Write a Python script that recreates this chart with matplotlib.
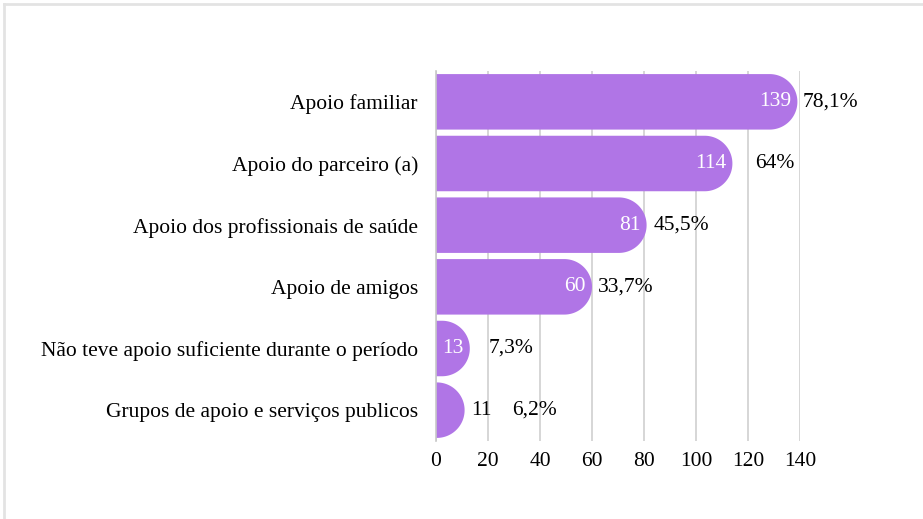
import numpy as np
import matplotlib
matplotlib.use("Agg")
import matplotlib.pyplot as plt
from matplotlib.patches import Polygon
from matplotlib.lines import Line2D

categories = [
    "Apoio familiar",
    "Apoio do parceiro (a)",
    "Apoio dos profissionais de saúde",
    "Apoio de amigos",
    "Não teve apoio suficiente durante o período",
    "Grupos de apoio e serviços publicos",
]
counts = [139, 114, 81, 60, 13, 11]
pct_labels = ["78,1%", "64%", "45,5%", "33,7%", "7,3%", "6,2%"]
pct_label_x = [141.2, 122.7, 83.8, 62.3, 20.4, 29.2]
x_ticks = [0, 20, 40, 60, 80, 100, 120, 140]

plt.rcParams["font.family"] = ["Liberation Serif", "DejaVu Serif"]

BAR = "#b075e6"
FS = 15.5
W, H = 923, 519
fig = plt.figure(figsize=(W / 100, H / 100), dpi=100)
fig.patch.set_facecolor("white")

left_px, right_px, top_px, bot_px = 436, 800, 71, 441
ax = fig.add_axes([left_px / W, (H - bot_px) / H,
                   (right_px - left_px) / W, (bot_px - top_px) / H])
ax.set_xlim(0, 140)
n = len(categories)
ax.set_ylim(n - 0.5, -0.5)

# pixel scale for circular ends
p0 = ax.transData.transform((0, 0))
p1 = ax.transData.transform((1, 1))
px_x = abs(p1[0] - p0[0])
px_y = abs(p1[1] - p0[1])
bh = 0.9
rx_full = (bh / 2) * px_y / px_x

for i, v in enumerate(counts):
    rx = min(rx_full, v)
    cx = v - rx
    t = np.linspace(-np.pi / 2, np.pi / 2, 80)
    xs = cx + rx * np.cos(t)
    ys = i + (bh / 2) * np.sin(t)
    pts = [(0, i - bh / 2)] + list(zip(xs, ys)) + [(0, i + bh / 2)]
    ax.add_patch(Polygon(pts, closed=True, facecolor=BAR, edgecolor="none",
                         zorder=2))
    if v >= 12:
        ax.annotate(str(v), (v, i), xytext=(-4.5, 0), textcoords="offset points",
                    ha="right", va="center", color="white", fontsize=FS,
                    zorder=3)
    else:
        ax.annotate(str(v), (v, i), xytext=(4.5, 0), textcoords="offset points",
                    ha="left", va="center", color="black", fontsize=FS,
                    zorder=3)
    ax.text(pct_label_x[i], i, pct_labels[i], ha="left", va="center",
            color="black", fontsize=FS, zorder=3)

ax.set_yticks(range(n))
ax.set_yticklabels(categories, fontsize=FS)
ax.set_xticks(x_ticks)
ax.set_xticklabels([str(x) for x in x_ticks], fontsize=FS)
ax.tick_params(axis="both", length=0)
ax.tick_params(axis="y", pad=13)
ax.tick_params(axis="x", pad=8)
ax.grid(axis="x", color="#d0d0d0", linewidth=1.2, zorder=0)
ax.set_axisbelow(True)
for s in ["top", "right", "bottom"]:
    ax.spines[s].set_visible(False)
ax.spines["left"].set_color("#c8c8c8")
ax.spines["left"].set_linewidth(1.2)

# outer frame (left and top edges)
fig.add_artist(Line2D([4 / W, 4 / W], [0, 1 - 4 / H], transform=fig.transFigure,
                      color="#e3e3e3", linewidth=2))
fig.add_artist(Line2D([4 / W, 1], [1 - 4 / H, 1 - 4 / H], transform=fig.transFigure,
                      color="#e3e3e3", linewidth=2))

fig.savefig("out.png", dpi=100)
